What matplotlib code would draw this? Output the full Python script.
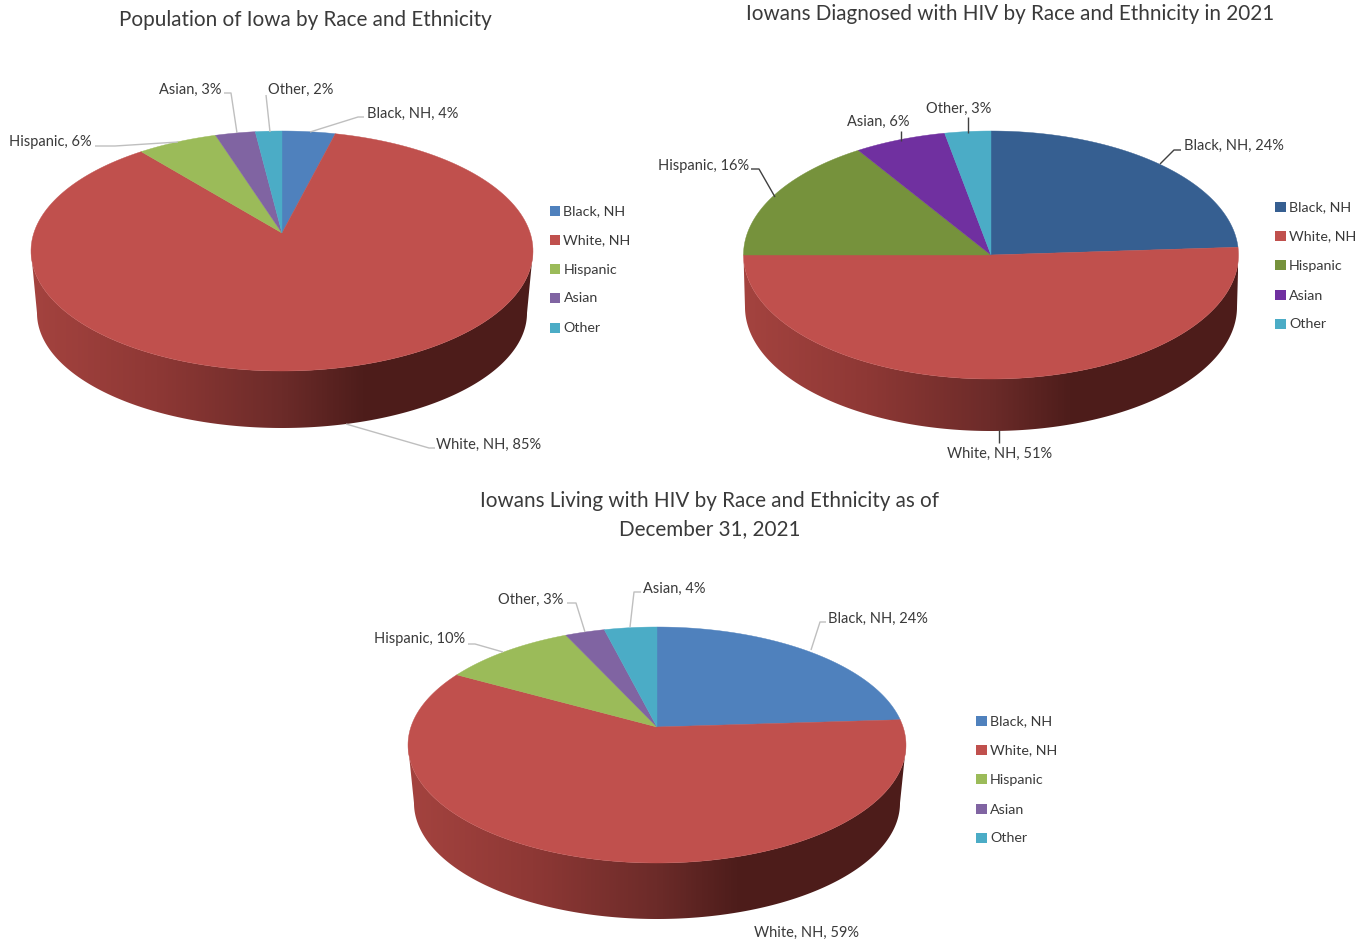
import numpy as np
import matplotlib
matplotlib.use("Agg")
import matplotlib.pyplot as plt
from matplotlib.colors import LinearSegmentedColormap
from matplotlib.patches import Polygon

plt.rcParams['font.family'] = ['Lato', 'DejaVu Sans']

legend_labels = ["Black, NH", "White, NH", "Hispanic", "Asian", "Other"]

# slices run clockwise from twelve o'clock
pop_names = ["Black, NH", "White, NH", "Hispanic", "Asian", "Other"]
pop_values = [4, 85, 6, 3, 2]
diag_names = ["Black, NH", "White, NH", "Hispanic", "Asian", "Other"]
diag_values = [24, 51, 16, 6, 3]
living_names = ["Black, NH", "White, NH", "Hispanic", "Other", "Asian"]
living_values = [24, 59, 10, 3, 4]

light_colors = ["#4F81BD", "#C0504D", "#9BBB59", "#8064A2", "#4BACC6"]
dark_colors = ["#365F91", "#C0504D", "#76923C", "#7030A0", "#4BACC6"]

side_cmap = LinearSegmentedColormap.from_list("side", [
    (0.0, "#A4433F"), (0.25, "#8E3835"), (0.5, "#6C2B29"),
    (0.66, "#4E1D1B"), (1.0, "#4D1C1A")])

LABEL_COLOR = "#3A3A3A"
LABEL_SIZE = 10.5
LEGEND_SIZE = 10.3
TITLE_SIZE = 14.85


def ellipse_pts(cx, cy, rx, ry, t):
    return cx + rx * np.cos(t), cy + ry * np.sin(t)


def draw_pie(ax, values, colors, cx, cy, rx, ry, apex_y, cy2, rx2, ry2):
    # side wall: horizontal gradient clipped to the band below the top face
    t = np.linspace(np.pi, 0, 300)
    x1, y1 = ellipse_pts(cx, cy, rx, ry, t)
    x2, y2 = ellipse_pts(cx, cy2, rx2, ry2, t[::-1])
    outline = np.column_stack([np.r_[x1, x2], np.r_[y1, y2]])
    grad = np.linspace(0, 1, 512).reshape(1, -1)
    im = ax.imshow(grad, cmap=side_cmap, aspect='auto', zorder=1,
                   extent=[cx - rx, cx + rx, cy2 + ry2 + 2, cy - 2])
    im.set_clip_path(Polygon(outline, transform=ax.transData))

    # top face: apex sits above the ellipse centre
    v0 = (cy - apex_y) / ry
    edges = np.cumsum([0] + list(values)) / sum(values) * 2 * np.pi
    for a, b, color in zip(edges[:-1], edges[1:], colors):
        th = np.linspace(a, b, 200)
        s, c = np.sin(th), np.cos(th)
        r = -v0 * c + np.sqrt(v0 ** 2 * c ** 2 - v0 ** 2 + 1)
        xs = cx + rx * r * s
        ys = cy - ry * (v0 + r * c)
        ax.fill(np.r_[cx, xs], np.r_[apex_y, ys], color=color, lw=0.3, zorder=2)


def draw_legend(ax, x, ys, colors):
    ax.scatter([x] * len(ys), ys, marker='s', s=62, c=colors, linewidths=0, zorder=3)
    for y, name in zip(ys, legend_labels):
        ax.text(x + 8.5, y + 0.5, name, fontsize=LEGEND_SIZE, color=LABEL_COLOR, va='center', ha='left')


def slice_label(ax, name, value, x, y, leader=None, line_color="#BFBFBF"):
    ax.text(x, y + 0.5, f"{name}, {value}%", fontsize=LABEL_SIZE, color=LABEL_COLOR,
            va='center', ha='left', zorder=4)
    if leader is not None:
        ax.plot(*zip(*leader), color=line_color, lw=1, zorder=3, solid_capstyle='butt')


fig = plt.figure(figsize=(13.7, 9.41), dpi=100, facecolor="white")
ax = fig.add_axes([0, 0, 1, 1])

# Population of Iowa
draw_pie(ax, pop_values, light_colors, 282, 251, 251, 120, 233, 313, 245, 115)
draw_legend(ax, 555, [211, 240, 269, 298, 328], light_colors)
pop_pos = [(367, 113), (436, 444), (9, 141), (159, 89), (268, 89)]
pop_lead = [[(310, 132), (358, 117), (364, 117)],
            [(346, 424), (429, 448), (435, 448)],
            [(178, 142), (115, 146), (95, 146)],
            [(237, 133), (231, 93), (224, 93)],
            [(270, 132), (266, 95)]]
for i, name in enumerate(pop_names):
    slice_label(ax, name, pop_values[i], *pop_pos[i], pop_lead[i])
ax.text(305, 20, "Population of Iowa by Race and Ethnicity", fontsize=TITLE_SIZE,
        color=LABEL_COLOR, ha='center', va='center')

# Diagnosed in 2021
draw_pie(ax, diag_values, dark_colors, 991, 255, 247.5, 124, 255, 307, 246, 124)
draw_legend(ax, 1280.5, [207, 236, 265, 295, 324], dark_colors)
diag_pos = [(1184, 145), (947, 453), (658, 165), (847, 121), (926, 108)]
diag_lead = [[(1160, 164), (1174, 150), (1181, 150)],
             [(999, 430), (999, 443)],
             [(775, 197), (759, 169), (751, 169)],
             [(901, 141), (901, 131)],
             [(968, 133), (968, 117)]]
for i, name in enumerate(diag_names):
    slice_label(ax, name, diag_values[i], *diag_pos[i], diag_lead[i], line_color="#404040")
ax.text(1010, 14, "Iowans Diagnosed with HIV by Race and Ethnicity in 2021", fontsize=TITLE_SIZE,
        color=LABEL_COLOR, ha='center', va='center')

# Living with HIV
draw_pie(ax, living_values, light_colors, 657, 745, 249, 118, 727, 803, 243, 116)
draw_legend(ax, 981.5, [721, 750, 779, 809, 838], light_colors)
living_pos = [(828, 618), (754, 932), (374, 639), (498, 599), (643, 588)]
living_lead = [[(811, 650), (820, 622), (826, 622)],
               None,
               [(503, 652), (475, 644), (468, 644)],
               [(585, 632), (576, 603), (567, 603)],
               [(630, 627), (634, 592), (641, 592)]]
for i, name in enumerate(living_names):
    slice_label(ax, name, living_values[i], *living_pos[i], living_lead[i])
ax.text(710, 501, "Iowans Living with HIV by Race and Ethnicity as of", fontsize=TITLE_SIZE,
        color=LABEL_COLOR, ha='center', va='center')
ax.text(710, 529, "December 31, 2021", fontsize=TITLE_SIZE,
        color=LABEL_COLOR, ha='center', va='center')

ax.set_xlim(0, 1370)
ax.set_ylim(941, 0)
ax.axis('off')

fig.savefig("out.png", dpi=100, facecolor="white")
